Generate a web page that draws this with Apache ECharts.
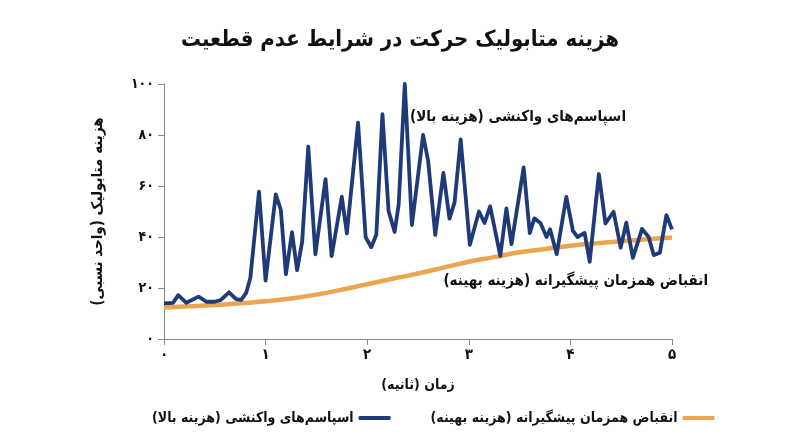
<!DOCTYPE html>
<html>
<head>
<meta charset="utf-8">
<script src="https://cdn.jsdelivr.net/npm/echarts@6/dist/echarts.min.js"></script>
<style>
html,body{margin:0;padding:0;background:#fff;}
#chart{width:800px;height:447px;}
</style>
</head>
<body>
<div id="chart"></div>
<script>
var titleText = 'هزینه متابولیک حرکت در شرایط عدم قطعیت';
var xAxisName = 'زمان (ثانیه)';
var yAxisName = 'هزینه متابولیک (واحد نسبی)';
var seriesNames = ['اسپاسم‌های واکنشی (هزینه بالا)', 'انقباض همزمان پیشگیرانه (هزینه بهینه)'];

var spasmTimes = [0.00,0.09,0.14,0.22,0.34,0.42,0.50,0.56,0.64,0.71,0.76,0.81,0.85,0.935,1.00,1.10,1.15,1.20,1.26,1.31,1.36,1.42,1.49,1.59,1.65,1.75,1.80,1.91,1.985,2.04,2.09,2.15,2.21,2.27,2.31,2.37,2.44,2.55,2.60,2.67,2.75,2.81,2.86,2.92,3.01,3.10,3.155,3.21,3.31,3.37,3.42,3.54,3.60,3.645,3.705,3.765,3.80,3.865,3.96,4.025,4.07,4.14,4.19,4.28,4.345,4.425,4.495,4.55,4.615,4.705,4.77,4.82,4.88,4.945,5.00];
var spasmValues = [14,14.2,17.2,14.2,16.6,14.6,14.6,15.3,18.3,15.6,15.3,18.2,24,57.8,22.9,56.7,50.6,25.4,41.9,27,38.2,75.4,33.2,62.7,32.5,55.8,41.4,84.8,39.9,36,41,88.2,50.2,42,52.8,100,44.7,80,69.8,40.8,65.1,47.2,53.6,78.3,36.9,50,45.5,52,32.6,51.2,37.2,67.3,41.5,47.3,45.5,40,43,33.3,55.7,42.4,40,41.6,30.3,64.7,45.3,49.9,35.8,45.6,31.8,43.2,40,32.9,33.8,48.6,43];

var cocTimes = [0,0.25,0.5,0.75,1.0,1.25,1.5,1.75,2.0,2.25,2.5,2.75,3.0,3.25,3.5,3.75,4.0,4.25,4.5,4.75,5.0];
var cocValues = [12.4,12.8,13.3,14.0,14.8,15.9,17.4,19.3,21.5,23.6,25.7,28.0,30.3,32.1,34.0,35.3,36.6,37.5,38.3,39.1,39.8];

var xTicks = [0,1,2,3,4,5];
var yTicks = [0,20,40,60,80,100];

var FONT = '"DejaVu Sans Condensed", "DejaVu Sans", sans-serif';
var RLM = '\u200F';
function rtl(s){ return RLM + s + RLM; }
function fa(n){ return String(n).replace(/[0-9]/g, function(d){ return '۰۱۲۳۴۵۶۷۸۹'[+d]; }); }
function pairs(xs, ys){ return xs.map(function(x,i){ return [x, ys[i]]; }); }

var chart = echarts.init(document.getElementById('chart'));
chart.setOption({
  animation: false,
  textStyle: { fontFamily: FONT },
  title: {
    text: rtl(titleText), left: 'center', top: 24,
    textStyle: { fontSize: 22, fontWeight: 'bold', color: '#111', fontFamily: FONT }
  },
  grid: { left: 164, right: 128, top: 84, bottom: 108 },
  xAxis: {
    type: 'value', min: xTicks[0], max: xTicks[xTicks.length-1], interval: 1,
    name: rtl(xAxisName), nameLocation: 'middle', nameGap: 39,
    nameTextStyle: { fontSize: 14, fontWeight: 'bold', color: '#111', fontFamily: FONT },
    axisLine: { lineStyle: { color: '#888', width: 1 } },
    axisTick: { show: true, length: 6, lineStyle: { color: '#888' } },
    axisLabel: { formatter: function(v){ return fa(v); }, fontSize: 15, fontWeight: 'bold', color: '#111', margin: 9, fontFamily: FONT },
    splitLine: { show: false }
  },
  yAxis: {
    type: 'value', min: yTicks[0], max: yTicks[yTicks.length-1], interval: 20,
    name: rtl(yAxisName), nameLocation: 'middle', nameGap: 58, nameRotate: 90,
    nameTextStyle: { fontSize: 15, fontWeight: 'bold', color: '#111', fontFamily: FONT },
    axisLine: { show: true, lineStyle: { color: '#888', width: 1 } },
    axisTick: { show: true, length: 6, lineStyle: { color: '#888' } },
    axisLabel: { formatter: function(v){ return fa(v); }, fontSize: 14, fontWeight: 'bold', color: '#111', margin: 10, fontFamily: FONT },
    splitLine: { show: false }
  },
  legend: {
    bottom: 17, left: 147, align: 'right', itemGap: 40,
    icon: 'roundRect', itemWidth: 32, itemHeight: 4,
    textStyle: { fontSize: 14, fontWeight: 'bold', color: '#111', fontFamily: FONT },
    formatter: function(n){ return rtl(n); },
    data: [seriesNames[0], seriesNames[1]]
  },
  graphic: [
    { type: 'text', right: 174, top: 110, style: { text: rtl(seriesNames[0]), font: 'bold 15px ' + FONT, fill: '#111', textAlign: 'right' } },
    { type: 'text', right: 92, top: 274, style: { text: rtl(seriesNames[1]), font: 'bold 15px ' + FONT, fill: '#111', textAlign: 'right' } }
  ],
  series: [
    {
      name: seriesNames[1], type: 'line', data: pairs(cocTimes, cocValues), smooth: true,
      showSymbol: false, lineStyle: { color: '#e9a550', width: 4.5 }, itemStyle: { color: '#e9a550' }, z: 2
    },
    {
      name: seriesNames[0], type: 'line', data: pairs(spasmTimes, spasmValues),
      showSymbol: false, lineStyle: { color: '#1f3a78', width: 3.8, join: 'round' }, itemStyle: { color: '#1f3a78' }, z: 3
    }
  ]
});
</script>
</body>
</html>
